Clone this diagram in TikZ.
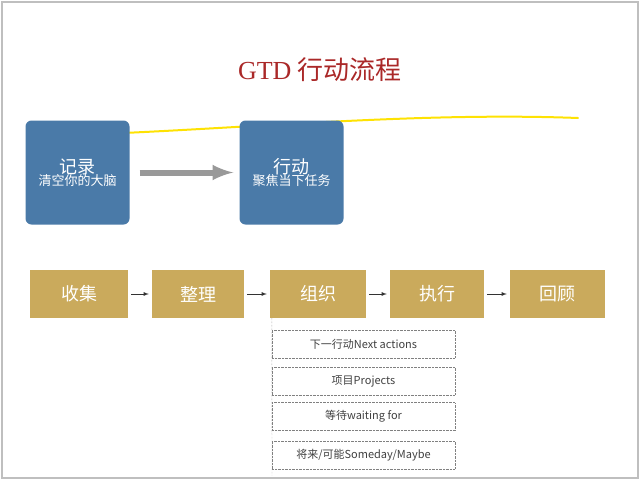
\documentclass[tikz,border=0pt]{standalone}
\usepackage{fontspec}
\newfontfamily\cjk{Noto Sans CJK SC}
\setmainfont{Liberation Serif}
\usetikzlibrary{positioning}
\definecolor{slideblue}{RGB}{74,122,168}
\definecolor{slidetan}{RGB}{202,170,92}
\definecolor{titlered}{RGB}{170,40,40}
\begin{document}
\begin{tikzpicture}[x=1pt,y=-1pt,
        blue box/.style={fill=slideblue, rounded corners=6pt, minimum width=104pt, minimum height=104pt, text=white, align=center, inner sep=0pt},
        tan box/.style={fill=slidetan, minimum height=48pt, text=white, font=\cjk\fontsize{18}{18}\selectfont, inner sep=0pt},
        list box/.style={draw=gray, densely dotted, minimum width=183pt, minimum height=28pt, text=black!75, font=\cjk\fontsize{11}{11}\selectfont, inner sep=0pt},
        flow/.style={-latex, thick, black!80}]
  \useasboundingbox (0,0) rectangle (640,480);
  \draw[gray!50, line width=1.5pt] (2,2) rectangle (638,478);
  % title and yellow line
  \node (title) at (320,70) {\fontsize{26}{26}\selectfont\color{titlered}GTD {\cjk 行动流程}};
  \draw[yellow!85!orange, line width=2pt, line cap=round] (100,134) .. controls (250,128) and (420,112) .. (578,118);
  % top row
  \node[blue box] (record) at (77.5,172.5) {{\fontsize{18}{20}\selectfont\cjk 记录}\\[-1pt]{\cjk\fontsize{13}{15}\selectfont 清空你的大脑}};
  \node[blue box] (act) at (291.5,172.5) {{\fontsize{18}{20}\selectfont\cjk 行动}\\[-1pt]{\cjk\fontsize{13}{15}\selectfont 聚焦当下任务}};
  \draw[-latex, line width=6pt, gray!80, shorten >=6pt, shorten <=10pt] (record) -- (act);
  % bottom row
  \node[tan box, minimum width=98pt] (collect) at (79,294) {收集};
  \node[tan box, minimum width=92pt] (sort) at (198,294) {整理};
  \node[tan box, minimum width=96pt] (organize) at (318,294) {组织};
  \node[tan box, minimum width=94pt] (execute) at (437,294) {执行};
  \node[tan box, minimum width=95pt] (review) at (557.5,294) {回顾};
  \foreach \a/\b in {collect/sort, sort/organize, organize/execute, execute/review}
    \draw[flow, shorten >=3pt, shorten <=3pt] (\a) -- (\b);
  % lists
  \node[list box] (next) at (363.5,344) {下一行动Next actions};
  \node[list box] (projects) at (363.5,381) {项目Projects};
  \node[list box] (waiting) at (363.5,416.5) {等待waiting for};
  \node[list box] (someday) at (363.5,455) {将来/可能Someday/Maybe};
  \coordinate (listend) at (272,476);
  \draw[gray, densely dotted] (organize.south west) ++(2,0) -- (listend);
\end{tikzpicture}
\end{document}
